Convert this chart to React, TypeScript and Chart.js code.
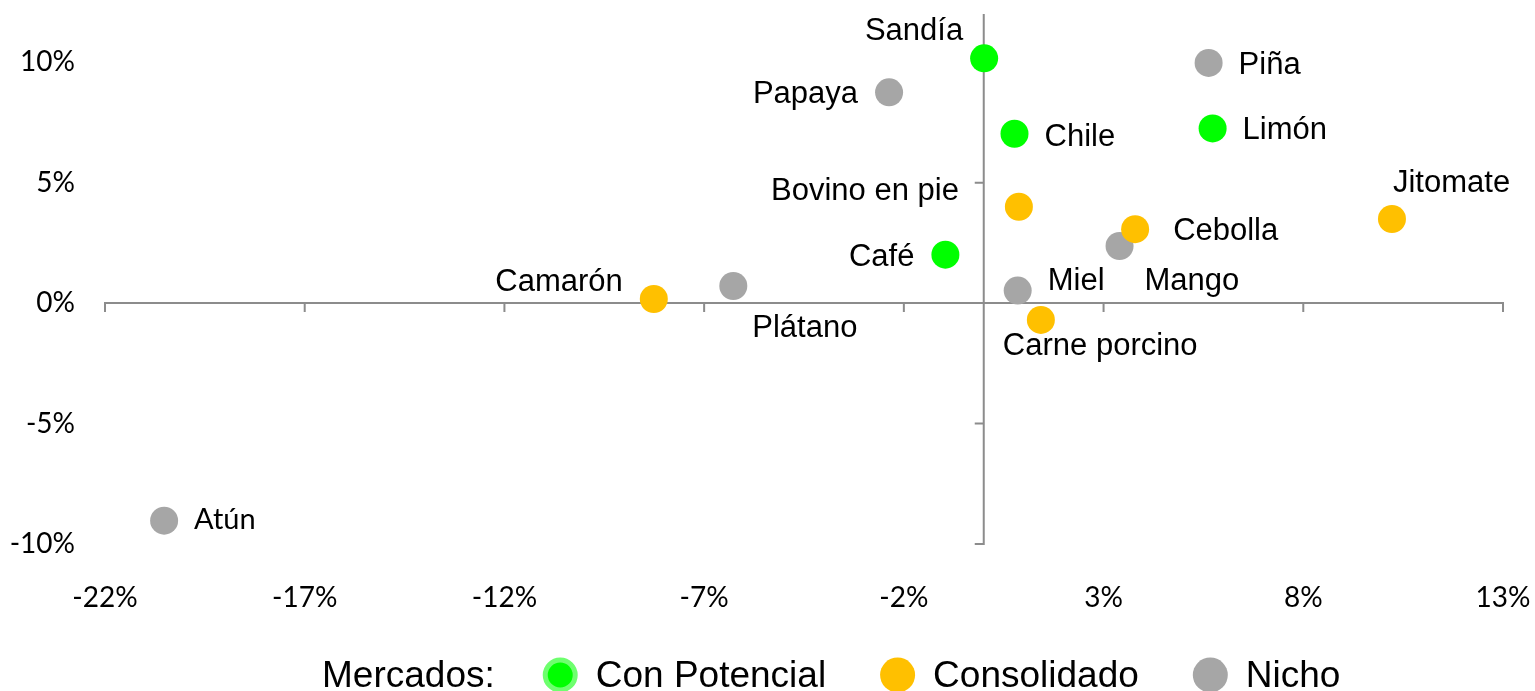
import React, { useEffect, useRef } from 'react';
import { Chart, registerables } from 'chart.js';

Chart.register(...registerables);

// ---- Data (as fractions) ----
const conPotencialNames = ['Sandía', 'Chile', 'Limón', 'Café'];
const conPotencialX = [0.0001, 0.0077, 0.0573, -0.0096];
const conPotencialY = [0.1016, 0.0703, 0.0725, 0.0201];

const consolidadoNames = ['Jitomate', 'Bovino en pie', 'Cebolla', 'Camarón', 'Carne porcino'];
const consolidadoX = [0.1022, 0.0088, 0.0379, -0.0826, 0.0143];
const consolidadoY = [0.0349, 0.04, 0.0307, 0.0017, -0.007];

const nichoNames = ['Papaya', 'Piña', 'Mango', 'Plátano', 'Miel', 'Atún'];
const nichoX = [-0.0237, 0.0563, 0.034, -0.0627, 0.0085, -0.2052];
const nichoY = [0.0875, 0.0997, 0.0237, 0.0071, 0.0052, -0.0903];

const seriesNames = ['Con Potencial', 'Consolidado', 'Nicho'];
const legendTitle = 'Mercados:';

const xTickValues = [-0.22, -0.17, -0.12, -0.07, -0.02, 0.03, 0.08, 0.13];
const yTickValues = [-0.1, -0.05, 0, 0.05, 0.1];
const xMin = -0.22;
const xMax = 0.13;
const yMin = -0.1;
const yMax = 0.12;

// ---- Styles ----
const GREEN = '#00FF00';
const GREEN_RING = '#6EFF6E';
const ORANGE = '#FFC000';
const GRAY = '#A6A6A6';
const AXIS = '#8C8C8C';
const LABEL_FONT = '31px "Liberation Sans", Arial, sans-serif';
const ALT_LABEL_FONT = '29px Lato, "Open Sans", sans-serif';

type Placement = { dx: number; dy: number; align: CanvasTextAlign; alt?: boolean };
const labelPlacement: Record<string, Placement> = {
  'Sandía': { dx: -21, dy: -18, align: 'right' },
  'Papaya': { dx: -31, dy: 11, align: 'right' },
  'Piña': { dx: 30, dy: 11, align: 'left' },
  'Chile': { dx: 30, dy: 12, align: 'left' },
  'Limón': { dx: 30, dy: 11, align: 'left' },
  'Jitomate': { dx: 1, dy: -27, align: 'left' },
  'Bovino en pie': { dx: -60, dy: -7, align: 'right' },
  'Cebolla': { dx: 38, dy: 11, align: 'left' },
  'Mango': { dx: 25, dy: 44, align: 'left' },
  'Café': { dx: -31, dy: 11, align: 'right' },
  'Camarón': { dx: -31, dy: -8, align: 'right' },
  'Plátano': { dx: 19, dy: 51, align: 'left' },
  'Miel': { dx: 30, dy: -1, align: 'left' },
  'Carne porcino': { dx: -38, dy: 35, align: 'left' },
  'Atún': { dx: 30, dy: 8, align: 'left', alt: true },
};

const seriesLabelNames = [conPotencialNames, consolidadoNames, nichoNames];

const toPoints = (xs: number[], ys: number[]) => xs.map((x, i) => ({ x, y: ys[i] }));
const pct = (v: number) => `${Math.round(v * 100)}%`;

const crossAxesPlugin = {
  id: 'crossAxes',
  beforeDatasetsDraw(chart: any) {
    const { ctx, scales } = chart;
    const x = scales.x;
    const y = scales.y;
    const x0 = x.getPixelForValue(0);
    const y0 = y.getPixelForValue(0);
    ctx.save();
    ctx.strokeStyle = AXIS;
    ctx.lineWidth = 2;
    ctx.lineCap = 'butt';
    ctx.beginPath();
    ctx.moveTo(x.getPixelForValue(xMin), y0);
    ctx.lineTo(x.getPixelForValue(xMax), y0);
    ctx.moveTo(x0, y.getPixelForValue(yMin));
    ctx.lineTo(x0, y.getPixelForValue(yMax));
    for (const v of xTickValues) {
      const px = x.getPixelForValue(v);
      ctx.moveTo(px, y0 - 1);
      ctx.lineTo(px, y0 + 9);
    }
    for (const v of yTickValues) {
      const py = y.getPixelForValue(v);
      ctx.moveTo(x0 + 1, py);
      ctx.lineTo(x0 - 9, py);
    }
    ctx.stroke();
    ctx.restore();
  },
};

const pointLabelsPlugin = {
  id: 'pointLabels',
  afterDatasetsDraw(chart: any) {
    const { ctx } = chart;
    ctx.save();
    ctx.fillStyle = '#000';
    ctx.textBaseline = 'alphabetic';
    chart.data.datasets.forEach((_ds: any, di: number) => {
      const meta = chart.getDatasetMeta(di);
      const names = seriesLabelNames[di];
      meta.data.forEach((el: any, i: number) => {
        const name = names[i];
        const p = labelPlacement[name];
        ctx.font = p.alt ? ALT_LABEL_FONT : LABEL_FONT;
        ctx.textAlign = p.align;
        ctx.fillText(name, el.x + p.dx, el.y + p.dy);
      });
    });
    ctx.restore();
  },
};

const legendPlugin = {
  id: 'mercadosLegend',
  afterDraw(chart: any) {
    const { ctx } = chart;
    const colors = [GREEN, ORANGE, GRAY];
    ctx.save();
    ctx.font = '37px "Liberation Sans", Arial, sans-serif';
    ctx.textAlign = 'left';
    ctx.textBaseline = 'alphabetic';
    const baseline = 687;
    const cy = 675;
    const r = 17.5;
    let x = 322;
    ctx.fillStyle = '#000';
    ctx.fillText(legendTitle, x, baseline);
    x += ctx.measureText(legendTitle).width + 48;
    seriesNames.forEach((name, i) => {
      ctx.beginPath();
      if (i === 0) {
        ctx.arc(x + r, cy, r - 2.5, 0, Math.PI * 2);
        ctx.fillStyle = colors[i];
        ctx.fill();
        ctx.lineWidth = 5;
        ctx.strokeStyle = GREEN_RING;
        ctx.stroke();
      } else {
        ctx.arc(x + r, cy, r, 0, Math.PI * 2);
        ctx.fillStyle = colors[i];
        ctx.fill();
      }
      x += 2 * r + 18;
      ctx.fillStyle = '#000';
      ctx.fillText(name, x, baseline);
      x += ctx.measureText(name).width + 54;
    });
    ctx.restore();
  },
};

export default function App() {
  const canvasRef = useRef<HTMLCanvasElement | null>(null);

  useEffect(() => {
    const canvas = canvasRef.current;
    if (!canvas) return;
    const tickFont = { family: 'Lato, "Open Sans", sans-serif', size: 28 };
    const chart = new Chart(canvas, {
      type: 'scatter',
      data: {
        datasets: [
          {
            label: seriesNames[0],
            data: toPoints(conPotencialX, conPotencialY),
            backgroundColor: GREEN,
            borderWidth: 0,
            pointRadius: 14,
            pointHoverRadius: 14,
          },
          {
            label: seriesNames[1],
            data: toPoints(consolidadoX, consolidadoY),
            backgroundColor: ORANGE,
            borderWidth: 0,
            pointRadius: 14,
            pointHoverRadius: 14,
          },
          {
            label: seriesNames[2],
            data: toPoints(nichoX, nichoY),
            backgroundColor: GRAY,
            borderWidth: 0,
            pointRadius: 14,
            pointHoverRadius: 14,
          },
        ],
      },
      options: {
        animation: false,
        responsive: true,
        maintainAspectRatio: false,
        events: [],
        layout: { padding: { top: 12, right: 32, left: 0, bottom: 67 } },
        plugins: {
          legend: { display: false },
          tooltip: { enabled: false },
          title: { display: false },
        },
        scales: {
          x: {
            type: 'linear',
            position: 'bottom',
            min: xMin,
            max: xMax,
            grid: { display: false, drawTicks: false },
            border: { display: false },
            afterBuildTicks: (s: any) => {
              s.ticks = xTickValues.map((v) => ({ value: v }));
            },
            afterFit: (s: any) => {
              s.height = 80;
              s.paddingLeft = 0;
              s.paddingRight = 0;
            },
            ticks: {
              autoSkip: false,
              maxRotation: 0,
              padding: 37,
              color: '#000',
              font: tickFont,
              callback: (v: any) => pct(Number(v)),
            },
          },
          y: {
            type: 'linear',
            position: 'left',
            min: yMin,
            max: yMax,
            grid: { display: false, drawTicks: false },
            border: { display: false },
            afterBuildTicks: (s: any) => {
              s.ticks = yTickValues.map((v) => ({ value: v }));
            },
            afterFit: (s: any) => {
              s.width = 105;
              s.paddingTop = 0;
              s.paddingBottom = 0;
            },
            ticks: {
              autoSkip: false,
              padding: 30,
              color: '#000',
              font: tickFont,
              callback: (v: any) => pct(Number(v)),
            },
          },
        },
      },
      plugins: [crossAxesPlugin, pointLabelsPlugin, legendPlugin],
    } as any);
    return () => chart.destroy();
  }, []);

  return (
    <div style={{ position: 'absolute', left: 0, top: 0, width: 1535, height: 691 }}>
      <canvas ref={canvasRef} />
    </div>
  );
}
